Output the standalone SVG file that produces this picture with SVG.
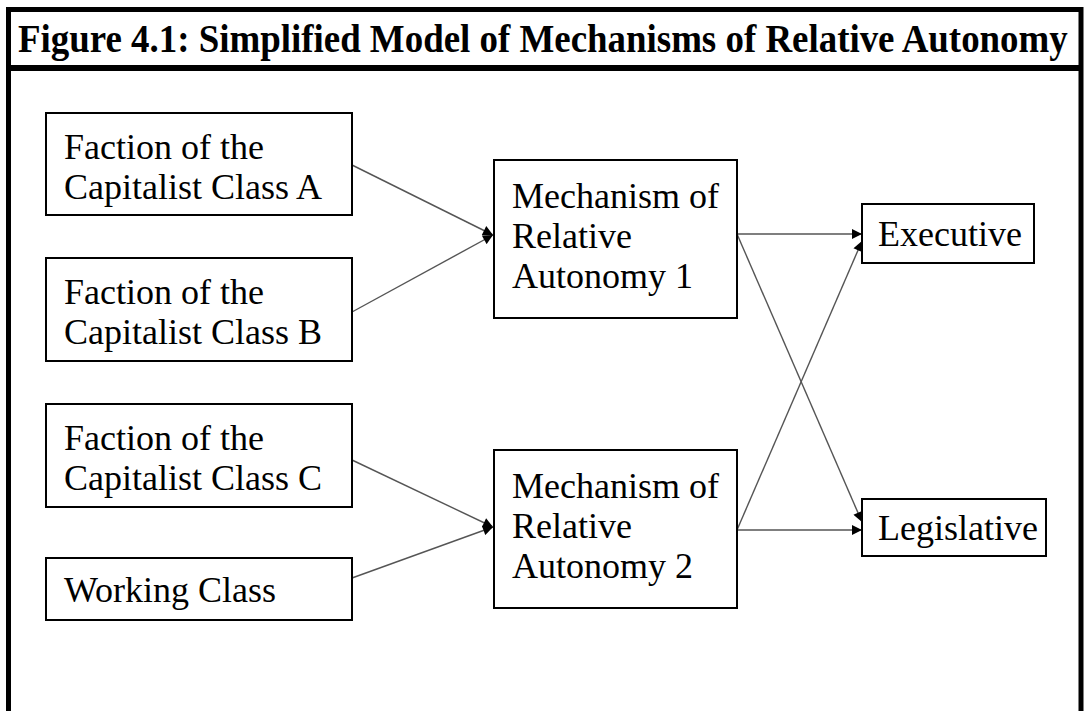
<svg xmlns="http://www.w3.org/2000/svg" width="1084" height="711" viewBox="0 0 1084 711">
<defs>
<style>
.frame{fill:none;stroke:#000;stroke-width:5}
.box{fill:#fff;stroke:#000;stroke-width:2}
.t{font-family:"Liberation Serif","Times New Roman",serif;font-size:36px;fill:#000}
.title{font-family:"Liberation Serif","Times New Roman",serif;font-size:39px;font-weight:bold;fill:#000}
.c{fill:none;stroke:#555;stroke-width:1.4}
</style>
<marker id="ah" viewBox="0 0 10 10" refX="10" refY="5" markerWidth="12" markerHeight="10" markerUnits="userSpaceOnUse" orient="auto">
<path d="M0,0 L10,5 L0,10 z" fill="#000"/>
</marker>
</defs>
<rect width="1084" height="711" fill="#fff"/>
<g id="frame">
<path class="frame" d="M8.5,720 V9.5 H1081 V720"/>
<line x1="8" y1="68" x2="1081" y2="68" stroke="#000" stroke-width="6"/>
<text class="title" transform="translate(18,52) scale(0.944,1)" x="0" y="0" textLength="1112" lengthAdjust="spacingAndGlyphs">Figure 4.1: Simplified Model of Mechanisms of Relative Autonomy</text>
</g>
<g id="connectors">
<line class="c" x1="352" y1="165" x2="493" y2="235" marker-end="url(#ah)"/>
<line class="c" x1="352" y1="312" x2="493" y2="235" marker-end="url(#ah)"/>
<line class="c" x1="352" y1="460" x2="493" y2="527" marker-end="url(#ah)"/>
<line class="c" x1="352" y1="578" x2="493" y2="527" marker-end="url(#ah)"/>
<line class="c" x1="737" y1="234" x2="862" y2="234" marker-end="url(#ah)"/>
<line class="c" x1="737" y1="234" x2="862" y2="522" marker-end="url(#ah)"/>
<line class="c" x1="737" y1="530" x2="862" y2="530" marker-end="url(#ah)"/>
<line class="c" x1="737" y1="530" x2="862" y2="241" marker-end="url(#ah)"/>
</g>
<g id="nodeA">
<rect class="box" x="46" y="113" width="306" height="102"/>
<text class="t" x="64" y="159">Faction of the</text>
<text class="t" x="64" y="199">Capitalist Class A</text>
</g>
<g id="nodeB">
<rect class="box" x="46" y="258" width="306" height="103"/>
<text class="t" x="64" y="304">Faction of the</text>
<text class="t" x="64" y="344">Capitalist Class B</text>
</g>
<g id="nodeC">
<rect class="box" x="46" y="404" width="306" height="103"/>
<text class="t" x="64" y="450">Faction of the</text>
<text class="t" x="64" y="490">Capitalist Class C</text>
</g>
<g id="nodeWC">
<rect class="box" x="46" y="558" width="306" height="62"/>
<text class="t" x="64" y="602">Working Class</text>
</g>
<g id="nodeM1">
<rect class="box" x="494" y="160" width="243" height="158"/>
<text class="t" x="512" y="208">Mechanism of</text>
<text class="t" x="512" y="248">Relative</text>
<text class="t" x="512" y="288">Autonomy 1</text>
</g>
<g id="nodeM2">
<rect class="box" x="494" y="450" width="243" height="158"/>
<text class="t" x="512" y="498">Mechanism of</text>
<text class="t" x="512" y="538">Relative</text>
<text class="t" x="512" y="578">Autonomy 2</text>
</g>
<g id="nodeExec">
<rect class="box" x="862" y="204" width="172" height="59"/>
<text class="t" x="878" y="246">Executive</text>
</g>
<g id="nodeLeg">
<rect class="box" x="862" y="499" width="184" height="57"/>
<text class="t" x="878" y="540">Legislative</text>
</g>
</svg>
